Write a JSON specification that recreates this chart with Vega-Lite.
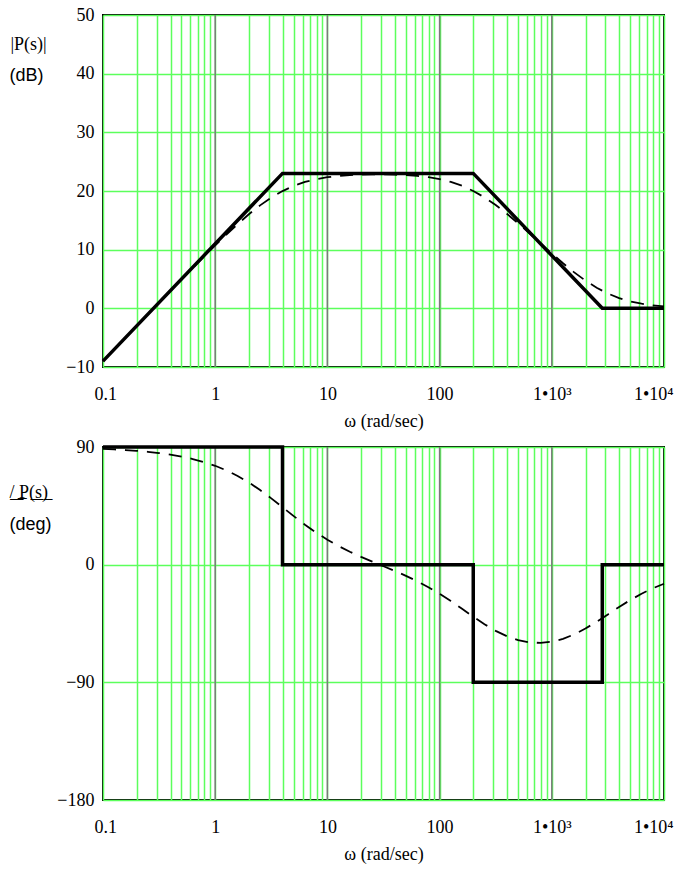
{
  "$schema": "https://vega.github.io/schema/vega-lite/v6.json",
  "background": "white",
  "padding": {"left": 8, "top": 5, "right": 4, "bottom": 4},
  "bounds": "flush",
  "spacing": 80,
  "datasets": {
    "decades": [{"w": 1}, {"w": 10}, {"w": 100}, {"w": 1000}],
    "magAsym": [
      {"w": 0.1, "db": -9.0},
      {"w": 3.98, "db": 23.0},
      {"w": 199.5, "db": 23.0},
      {"w": 2818, "db": 0.0},
      {"w": 10000, "db": 0.0}
    ],
    "magExact": [
      {"w": 0.1, "db": -9.0}, {"w": 0.1259, "db": -7.0}, {"w": 0.1585, "db": -5.01}, {"w": 0.1995, "db": -3.01},
      {"w": 0.2512, "db": -1.02}, {"w": 0.3162, "db": 0.97}, {"w": 0.3981, "db": 2.96}, {"w": 0.5012, "db": 4.93},
      {"w": 0.631, "db": 6.89}, {"w": 0.7943, "db": 8.83}, {"w": 1, "db": 10.73}, {"w": 1.259, "db": 12.59},
      {"w": 1.585, "db": 14.36}, {"w": 1.995, "db": 16.03}, {"w": 2.512, "db": 17.55}, {"w": 3.162, "db": 18.87},
      {"w": 3.981, "db": 19.99}, {"w": 5.012, "db": 20.87}, {"w": 6.31, "db": 21.54}, {"w": 7.943, "db": 22.02},
      {"w": 10, "db": 22.35}, {"w": 12.59, "db": 22.57}, {"w": 15.85, "db": 22.71}, {"w": 19.95, "db": 22.79},
      {"w": 25.12, "db": 22.82}, {"w": 31.62, "db": 22.82}, {"w": 39.81, "db": 22.79}, {"w": 50.12, "db": 22.71},
      {"w": 63.1, "db": 22.57}, {"w": 79.43, "db": 22.35}, {"w": 100, "db": 22.03}, {"w": 125.9, "db": 21.55},
      {"w": 158.5, "db": 20.89}, {"w": 199.5, "db": 20.01}, {"w": 251.2, "db": 18.91}, {"w": 316.2, "db": 17.6},
      {"w": 398.1, "db": 16.11}, {"w": 501.2, "db": 14.5}, {"w": 631, "db": 12.8}, {"w": 794.3, "db": 11.07},
      {"w": 1000, "db": 9.35}, {"w": 1259, "db": 7.68}, {"w": 1585, "db": 6.13}, {"w": 1995, "db": 4.72},
      {"w": 2512, "db": 3.51}, {"w": 3162, "db": 2.52}, {"w": 3981, "db": 1.75}, {"w": 5012, "db": 1.19},
      {"w": 6310, "db": 0.79}, {"w": 7943, "db": 0.51}, {"w": 10000, "db": 0.33}
    ],
    "phAsym": [
      {"i": 0, "w": 0.1, "deg": 90},
      {"i": 1, "w": 3.98, "deg": 90},
      {"i": 2, "w": 3.98, "deg": 0},
      {"i": 3, "w": 199.5, "deg": 0},
      {"i": 4, "w": 199.5, "deg": -90},
      {"i": 5, "w": 2818, "deg": -90},
      {"i": 6, "w": 2818, "deg": 0},
      {"i": 7, "w": 10000, "deg": 0}
    ],
    "phExact": [
      {"w": 0.1, "deg": 88.53}, {"w": 0.1259, "deg": 88.15}, {"w": 0.1585, "deg": 87.67}, {"w": 0.1995, "deg": 87.07},
      {"w": 0.2512, "deg": 86.32}, {"w": 0.3162, "deg": 85.37}, {"w": 0.3981, "deg": 84.18}, {"w": 0.5012, "deg": 82.68},
      {"w": 0.631, "deg": 80.81}, {"w": 0.7943, "deg": 78.49}, {"w": 1, "deg": 75.63}, {"w": 1.259, "deg": 72.12},
      {"w": 1.585, "deg": 67.88}, {"w": 1.995, "deg": 62.85}, {"w": 2.512, "deg": 57.08}, {"w": 3.162, "deg": 50.69},
      {"w": 3.981, "deg": 43.94}, {"w": 5.012, "deg": 37.12}, {"w": 6.31, "deg": 30.57}, {"w": 7.943, "deg": 24.5},
      {"w": 10, "deg": 19.03}, {"w": 12.59, "deg": 14.2}, {"w": 15.85, "deg": 9.88}, {"w": 19.95, "deg": 5.98},
      {"w": 25.12, "deg": 2.34}, {"w": 31.62, "deg": -1.19}, {"w": 39.81, "deg": -4.76}, {"w": 50.12, "deg": -8.54},
      {"w": 63.1, "deg": -12.66}, {"w": 79.43, "deg": -17.22}, {"w": 100, "deg": -22.31}, {"w": 125.9, "deg": -27.88},
      {"w": 158.5, "deg": -33.8}, {"w": 199.5, "deg": -39.81}, {"w": 251.2, "deg": -45.54}, {"w": 316.2, "deg": -50.63},
      {"w": 398.1, "deg": -54.77}, {"w": 501.2, "deg": -57.77}, {"w": 631, "deg": -59.47}, {"w": 794.3, "deg": -59.87},
      {"w": 1000, "deg": -58.96}, {"w": 1259, "deg": -56.74}, {"w": 1585, "deg": -53.33}, {"w": 1995, "deg": -48.88},
      {"w": 2512, "deg": -43.66}, {"w": 3162, "deg": -38.03}, {"w": 3981, "deg": -32.37}, {"w": 5012, "deg": -27.02},
      {"w": 6310, "deg": -22.22}, {"w": 7943, "deg": -18.06}, {"w": 10000, "deg": -14.58}
    ]
  },
  "vconcat": [
    {
      "width": 561,
      "height": 352,
      "layer": [
        {
          "data": {"name": "decades"},
          "mark": {"type": "rule", "color": "#7a7a7a", "strokeWidth": 1.5},
          "encoding": {
            "x": {
              "field": "w", "type": "quantitative",
              "scale": {"type": "log", "domain": [0.1, 10000], "nice": false},
              "axis": {
                "values": [0.1,0.2,0.3,0.4,0.5,0.6,0.7,0.8,0.9,1,2,3,4,5,6,7,8,9,10,20,30,40,50,60,70,80,90,100,200,300,400,500,600,700,800,900,1000,2000,3000,4000,5000,6000,7000,8000,9000,10000],
                "labelExpr": "datum.value == 0.1 ? '0.1' : datum.value == 1 ? '1' : datum.value == 10 ? '10' : datum.value == 100 ? '100' : datum.value == 1000 ? '1•10³' : datum.value == 10000 ? '1•10⁴' : ''",
                "grid": true,
                "gridColor": "#5cff5c",
                "labelPadding": 18,
                "labelFlush": true,
                "labelFlushOffset": 9,
                "title": "ω (rad/sec)",
                "titlePadding": 9
              }
            }
          }
        },
        {
          "data": {"name": "magAsym"},
          "mark": {"type": "line", "color": "black", "strokeWidth": 3.5},
          "encoding": {
            "x": {"field": "w", "type": "quantitative"},
            "y": {
              "field": "db", "type": "quantitative",
              "scale": {"domain": [-10, 50], "nice": false, "zero": false},
              "axis": {
                "values": [-10, 0, 10, 20, 30, 40, 50],
                "grid": true,
                "gridColor": "#5cff5c",
                "labelPadding": 9,
                "title": "|P(s)|",
                "titleAngle": 0, "titleAlign": "left", "titleBaseline": "middle",
                "titleX": -93, "titleY": 29
              }
            }
          }
        },
        {
          "data": {"name": "magExact"},
          "mark": {"type": "line", "color": "black", "strokeWidth": 1.8, "strokeDash": [13, 9]},
          "encoding": {
            "x": {"field": "w", "type": "quantitative"},
            "y": {
              "field": "db", "type": "quantitative",
              "axis": {
                "orient": "left", "labels": false, "grid": false, "ticks": false, "domain": false,
                "title": "(dB)", "titleFont": "Liberation Sans",
                "titleAngle": 0, "titleAlign": "left", "titleBaseline": "middle",
                "titleX": -94, "titleY": 60
              }
            }
          }
        }
      ],
      "resolve": {"axis": {"y": "independent"}}
    },
    {
      "width": 561,
      "height": 353,
      "layer": [
        {
          "data": {"name": "decades"},
          "mark": {"type": "rule", "color": "#7a7a7a", "strokeWidth": 1.5},
          "encoding": {
            "x": {
              "field": "w", "type": "quantitative",
              "scale": {"type": "log", "domain": [0.1, 10000], "nice": false},
              "axis": {
                "values": [0.1,0.2,0.3,0.4,0.5,0.6,0.7,0.8,0.9,1,2,3,4,5,6,7,8,9,10,20,30,40,50,60,70,80,90,100,200,300,400,500,600,700,800,900,1000,2000,3000,4000,5000,6000,7000,8000,9000,10000],
                "labelExpr": "datum.value == 0.1 ? '0.1' : datum.value == 1 ? '1' : datum.value == 10 ? '10' : datum.value == 100 ? '100' : datum.value == 1000 ? '1•10³' : datum.value == 10000 ? '1•10⁴' : ''",
                "grid": true,
                "gridColor": "#5cff5c",
                "labelPadding": 18,
                "labelFlush": true,
                "labelFlushOffset": 9,
                "title": "ω (rad/sec)",
                "titlePadding": 9
              }
            }
          }
        },
        {
          "data": {"name": "phAsym"},
          "mark": {"type": "line", "color": "black", "strokeWidth": 3.5},
          "encoding": {
            "x": {"field": "w", "type": "quantitative"},
            "y": {
              "field": "deg", "type": "quantitative",
              "scale": {"domain": [-180, 90], "nice": false, "zero": false},
              "axis": {
                "values": [-180, -90, 0, 90],
                "grid": true,
                "gridColor": "#5cff5c",
                "labelPadding": 9,
                "title": "/\u0332 \u0332P\u0332(\u0332s\u0332)\u0332",
                "titleAngle": 0, "titleAlign": "left", "titleBaseline": "middle",
                "titleX": -94, "titleY": 45
              }
            },
            "order": {"field": "i", "type": "quantitative"}
          }
        },
        {
          "data": {"name": "phExact"},
          "mark": {"type": "line", "color": "black", "strokeWidth": 1.8, "strokeDash": [13, 9]},
          "encoding": {
            "x": {"field": "w", "type": "quantitative"},
            "y": {
              "field": "deg", "type": "quantitative",
              "axis": {
                "orient": "left", "labels": false, "grid": false, "ticks": false, "domain": false,
                "title": "(deg)", "titleFont": "Liberation Sans",
                "titleAngle": 0, "titleAlign": "left", "titleBaseline": "middle",
                "titleX": -94, "titleY": 77
              }
            }
          }
        }
      ],
      "resolve": {"axis": {"y": "independent"}}
    }
  ],
  "config": {
    "view": {"stroke": "black", "strokeWidth": 2},
    "axis": {
      "domain": false,
      "ticks": false,
      "tickSize": 0,
      "gridWidth": 1.5,
      "gridOpacity": 1,
      "labelFont": "Liberation Serif",
      "labelFontSize": 18,
      "labelColor": "black",
      "labelOverlap": false,
      "labelBound": false,
      "titleFont": "Liberation Serif",
      "titleFontSize": 18,
      "titleFontWeight": "normal",
      "titleColor": "black"
    }
  }
}
